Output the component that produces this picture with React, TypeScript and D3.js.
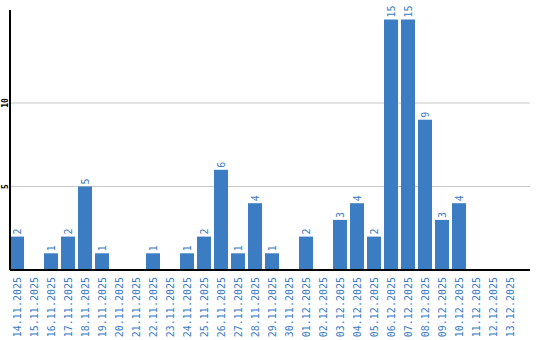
import React from "react";
import * as d3 from "d3";

const categories = [
  "14.11.2025","15.11.2025","16.11.2025","17.11.2025","18.11.2025","19.11.2025",
  "20.11.2025","21.11.2025","22.11.2025","23.11.2025","24.11.2025","25.11.2025",
  "26.11.2025","27.11.2025","28.11.2025","29.11.2025","30.11.2025","01.12.2025",
  "02.12.2025","03.12.2025","04.12.2025","05.12.2025","06.12.2025","07.12.2025",
  "08.12.2025","09.12.2025","10.12.2025","11.12.2025","12.12.2025","13.12.2025",
];
const values = [2,0,1,2,5,1,0,0,1,0,1,2,6,1,4,1,0,2,0,3,4,2,15,15,9,3,4,0,0,0];
const yTicks = [5, 10];

const W = 540, H = 340;
const left = 10, right = 530, top = 10, base = 270;
const BAR = "#3b7cc2";
const MONO = "'DejaVu Sans Mono', 'Liberation Mono', monospace";

export default function App() {
  const x = d3.scaleBand<string>().domain(categories).range([left, 517]).paddingInner(3 / 17).paddingOuter(0);
  const y = d3.scaleLinear().domain([0, 15.57]).range([base, top]);
  const bw = x.bandwidth();
  return (
    <svg width={W} height={H} style={{ position: "absolute", left: 0, top: 0, background: "#fff" }}>
      {yTicks.map((t) => (
        <g key={t}>
          <line x1={left} x2={right} y1={y(t)} y2={y(t)} stroke="#c8c8c8" strokeWidth={1} />
          <text
            transform={`translate(5,${y(t)}) rotate(-90)`}
            textAnchor="middle"
            dy="0.35em"
            fontFamily={MONO}
            fontSize={8}
            fontWeight="bold"
            fill="#000"
          >
            {t}
          </text>
        </g>
      ))}
      {categories.map((c, i) => {
        const v = values[i];
        const cx = (x(c) as number) + bw / 2;
        return (
          <g key={c}>
            {v > 0 && (
              <rect x={x(c)} y={y(v)} width={bw} height={base - y(v)} fill={BAR} />
            )}
            {v > 0 && (
              <text
                transform={`translate(${cx},${y(v) - 2}) rotate(-90)`}
                dy="0.35em"
                fontFamily={MONO}
                fontSize={10}
                fill={BAR}
              >
                {v}
              </text>
            )}
            <text
              transform={`translate(${cx},277) rotate(-90)`}
              textAnchor="end"
              dy="0.35em"
              fontFamily={MONO}
              fontSize={10}
              fill={BAR}
            >
              {c}
            </text>
          </g>
        );
      })}
      <line x1={left} x2={left} y1={top} y2={base} stroke="#000" strokeWidth={2} />
      <line x1={left} x2={right} y1={base} y2={base} stroke="#000" strokeWidth={2} />
    </svg>
  );
}
